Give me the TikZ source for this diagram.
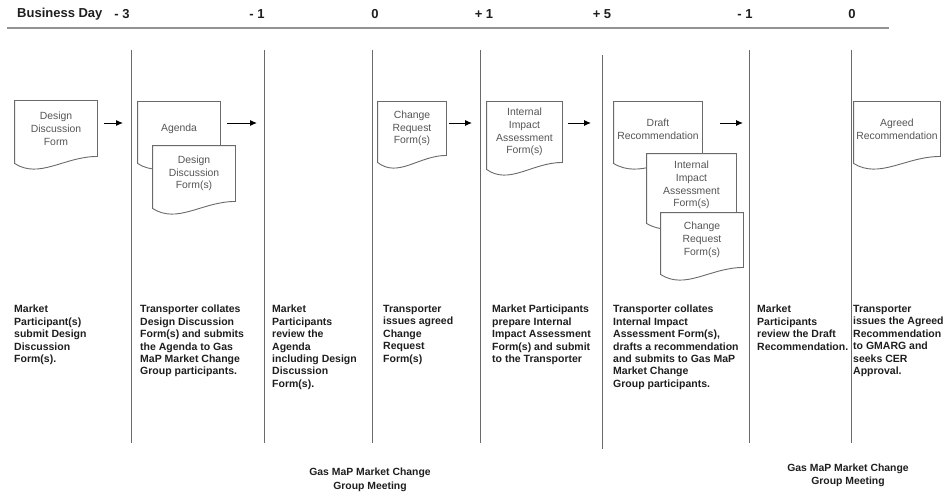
\documentclass[tikz,border=0pt]{standalone}
\usepackage{fontspec}
\setmainfont{Liberation Sans}
\usepackage{xcolor}
\usepackage{tikz}
\usetikzlibrary{arrows.meta}
\definecolor{formgray}{HTML}{555555}
\definecolor{linegray}{HTML}{6A6A6A}
\definecolor{inkdark}{HTML}{1E1E1E}

% paper form: rectangle with a wavy bottom edge
\makeatletter
\pgfdeclareshape{paperform}{%
  \inheritsavedanchors[from=rectangle]%
  \inheritanchorborder[from=rectangle]%
  \inheritanchor[from=rectangle]{center}%
  \inheritanchor[from=rectangle]{north}%
  \inheritanchor[from=rectangle]{south}%
  \inheritanchor[from=rectangle]{east}%
  \inheritanchor[from=rectangle]{west}%
  \inheritanchor[from=rectangle]{north east}%
  \inheritanchor[from=rectangle]{north west}%
  \inheritanchor[from=rectangle]{south east}%
  \inheritanchor[from=rectangle]{south west}%
  \backgroundpath{%
    \southwest \edef\pf@xl{\the\pgf@x}\edef\pf@yb{\the\pgf@y}%
    \northeast \edef\pf@xr{\the\pgf@x}\edef\pf@yt{\the\pgf@y}%
    \pgfpathmoveto{\pgfpoint{\pf@xl}{\pf@yt}}%
    \pgfpathlineto{\pgfpoint{\pf@xr}{\pf@yt}}%
    \pgfpathlineto{\pgfpoint{\pf@xr}{\pf@yb}}%
    \pgfpathcurveto{\pgfpoint{(\pf@xl)+0.6*((\pf@xr)-(\pf@xl))}{\pf@yb}}%
                   {\pgfpoint{(\pf@xl)+0.3*((\pf@xr)-(\pf@xl))}{(\pf@yb)-23pt}}%
                   {\pgfpoint{\pf@xl}{(\pf@yb)-7pt}}%
    \pgfpathclose
  }%
}
\makeatother

\tikzstyle{form}=[shape=paperform,draw=linegray,fill=white,line width=0.9pt,inner sep=0pt,align=center,text=formgray,font=\fontsize{10.4}{12.8}\selectfont]
\tikzstyle{activity}=[anchor=north west,inner sep=0pt,align=left,text=inkdark,font=\bfseries\fontsize{10.5}{12.4}\selectfont]
\tikzstyle{meeting}=[inner sep=0pt,align=center,text=inkdark,font=\bfseries\fontsize{10.4}{13.5}\selectfont]
\tikzstyle{day}=[inner sep=0pt,text=inkdark,font=\bfseries\fontsize{13}{15}\selectfont]
\tikzstyle{lane}=[draw=linegray,line width=0.9pt]
\tikzstyle{rule}=[draw=gray!85,line width=1.8pt]
\tikzstyle{flow}=[->,>={Latex[length=7pt,width=6pt]},line width=1pt,black]

\begin{document}
\begin{tikzpicture}[x=1pt,y=-1pt]
        \useasboundingbox (0,0) rectangle (949,492);

        % business days
        \node at (17,14) [day,anchor=west] (bday) {Business Day};
        \foreach \x/\d [count=\i] in {122/{- 3},257/{- 1},375/0,484/{+ 1},602/{+ 5},745/{- 1},852/0}
          \node at (\x,14) [day] (d\i) {\d};
        \draw [rule] (7,28) -- (889,28);

        % lanes
        \foreach \x/\ya/\yb in {131/50/443,264/50/443,372/50/443,480/50/443,602/55/449,749/50/443,851/50/443}
          \draw [lane] (\x,\ya) -- (\x,\yb);

        % forms
        \node at (56,128.5)  [form,minimum width=82pt,minimum height=55pt] (ddf)    {Design\\Discussion\\Form};
        \node at (179,129)   [form,minimum width=82pt,minimum height=54pt] (agenda) {Agenda};
        \node at (194,173.5) [form,minimum width=82pt,minimum height=55pt] (ddfs)   {Design\\Discussion\\Form(s)};
        \node at (412,128.5) [form,minimum width=68pt,minimum height=53pt] (crf)    {Change\\Request\\Form(s)};
        \node at (524.5,132) [form,minimum width=75pt,minimum height=60pt] (iiaf)   {Internal\\Impact\\Assessment\\Form(s)};
        \node at (658,129)   [form,minimum width=88pt,minimum height=54pt] (draft)  {Draft\\Recommendation};
        \node at (691.5,185) [form,minimum width=89pt,minimum height=62pt] (iiafs)  {Internal\\Impact\\Assessment\\Form(s)};
        \node at (702,240)   [form,minimum width=82pt,minimum height=54pt] (crfs)   {Change\\Request\\Form(s)};
        \node at (897,129)   [form,minimum width=86pt,minimum height=54pt] (agreed) {Agreed\\Recommendation};

        \coordinate (h1) at (123,123);
        \coordinate (h2) at (257,123);
        \coordinate (h3) at (472,123);
        \coordinate (h4) at (591,123);
        \coordinate (h5) at (743,123);

        \draw [flow] ([shift={(7,-5.5)}]ddf.east)  -- (h1);
        \draw [flow] ([shift={(7,-6)}]agenda.east) -- (h2);
        \draw [flow] ([shift={(3,-5.5)}]crf.east)  -- (h3);
        \draw [flow] ([shift={(6,-9)}]iiaf.east)   -- (h4);
        \draw [flow] ([shift={(18,-6)}]draft.east) -- (h5);

        % activities
        \node at (14,305)  [activity] (act1) {Market\\Participant(s)\\submit Design\\Discussion\\Form(s).};
        \node at (140,305) [activity] (act2) {Transporter collates\\Design Discussion\\Form(s) and submits\\the Agenda to Gas\\MaP Market Change\\Group participants.};
        \node at (272,305) [activity] (act3) {Market\\Participants\\review the\\Agenda\\including Design\\Discussion\\Form(s).};
        \node at (383,305) [activity] (act4) {Transporter\\issues agreed\\Change\\Request\\Form(s)};
        \node at (492,305) [activity] (act5) {Market Participants\\prepare Internal\\Impact Assessment\\Form(s) and submit\\to the Transporter};
        \node at (613,305) [activity] (act6) {Transporter collates\\Internal Impact\\Assessment Form(s),\\drafts a recommendation\\and submits to Gas MaP\\Market Change\\Group participants.};
        \node at (757,305) [activity] (act7) {Market\\Participants\\review the Draft\\Recommendation.};
        \node at (853,305) [activity] (act8) {Transporter\\issues the Agreed\\Recommendation\\to GMARG and\\seeks CER\\Approval.};

        % meetings
        \node at (370,480)   [meeting] (meet1) {Gas MaP Market Change\\Group Meeting};
        \node at (848,475.5) [meeting] (meet2) {Gas MaP Market Change\\Group Meeting};
      \end{tikzpicture}
\end{document}
